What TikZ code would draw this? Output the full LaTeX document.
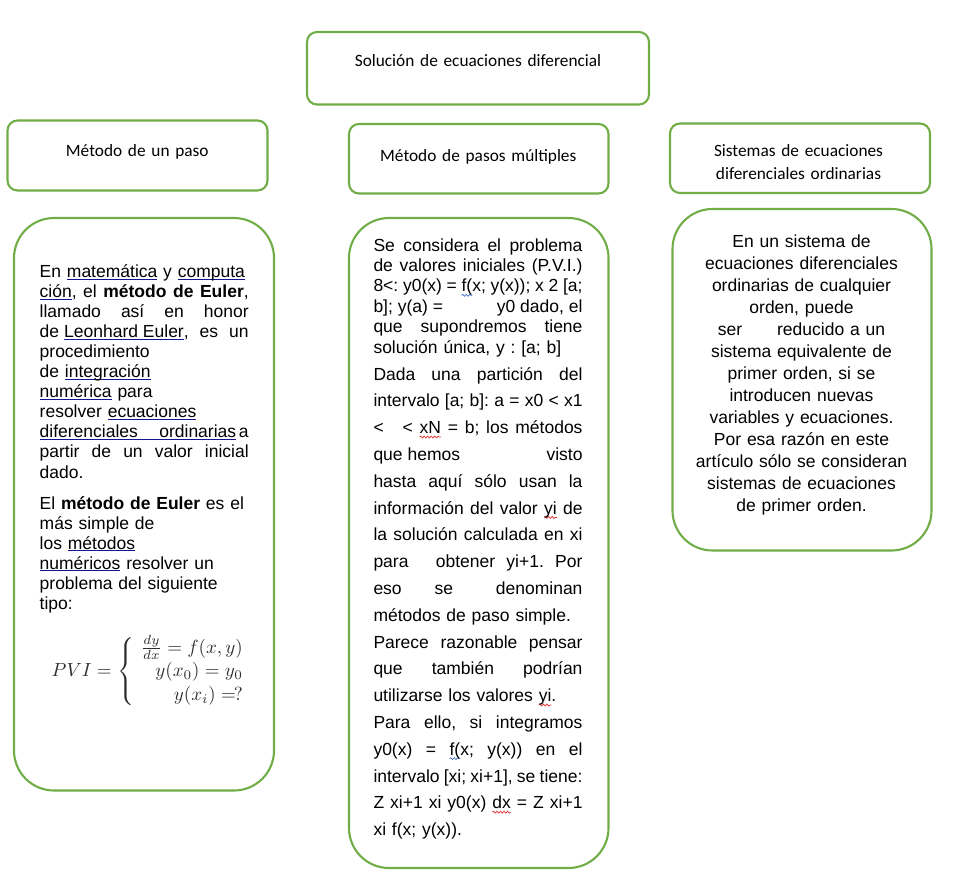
\documentclass[tikz,border=0pt]{standalone}
\usepackage[no-math]{fontspec}
\usepackage{graphicx}
\setmainfont{Liberation Sans}
\newfontfamily\calfont{Carlito}
\usetikzlibrary{decorations.pathmorphing}
\definecolor{grn}{HTML}{70AD47}
\definecolor{lnk}{HTML}{14148C}
\definecolor{sqred}{HTML}{E03030}
\definecolor{sqblue}{HTML}{4472C4}
\frenchspacing
\newsavebox\lkbox
\newcommand\lk[1]{\leavevmode\sbox\lkbox{#1}{\color{lnk}\rlap{\rule[-2.3pt]{\wd\lkbox}{1.1pt}}\usebox\lkbox}}
\newcommand\jl[1]{\leavevmode\makebox[209pt][s]{\spaceskip=4.87pt plus 1fil minus 1.6pt\xspaceskip=\spaceskip\relax #1}}
\newsavebox\sqbox
\newlength\sqlen
\newcommand\sq[2]{\leavevmode\sbox\sqbox{#2}\setlength{\sqlen}{\wd\sqbox}\rlap{\tikz[baseline=0pt,overlay]\draw[#1,line width=0.7pt,decorate,decoration={snake,amplitude=1pt,segment length=3.5pt}] (0pt,-3.4pt) -- (\the\sqlen,-3.4pt);}\usebox\sqbox}
\tikzset{
  hbox/.style={draw=grn, line width=2.1pt, rounded corners=10pt},
  bbox/.style={draw=grn, line width=2.1pt, rounded corners=40pt},
  htext/.style={font=\calfont\fontsize{17.3}{23.3}\selectfont, inner sep=0pt, anchor=base, align=center, text width=320pt},
  bodytext/.style={inner sep=0pt, text width=209pt, align=left, anchor=base west},
}
\begin{document}
\begin{tikzpicture}[x=1pt,y=-1pt]
\useasboundingbox (0,0) rectangle (960,892);
% header boxes
\draw[hbox] (307,32) rectangle (649,104.5);
\draw[hbox] (7.5,120.5) rectangle (267.5,190.5);
\draw[hbox] (349,124) rectangle (608.5,193.5);
\draw[hbox] (670,123.5) rectangle (930,193);
% body boxes
\draw[bbox] (14,218) rectangle (274,790.5);
\draw[bbox] (349,218) rectangle (608.5,868);
\draw[bbox] (672.5,209) rectangle (931.5,550.5);
% header texts
\node[htext] (t0) at (478,66.5) {Solución de ecuaciones diferencial};
\node[htext] (t1) at (137.3,156) {Método de un paso};
\node[htext] (t2) at (478.3,161) {Método de pasos múltiples};
\node[htext] (t3) at (798.5,156) {Sistemas de ecuaciones\\diferenciales ordinarias};
% box A
\node[bodytext, font=\fontsize{17.5}{20.05}\selectfont] (pa1) at (39.5,277.5) {%
\mbox{En \lk{matemática} y \lk{computa}}\\
\jl{\lk{ción}, el \textbf{método de Euler},}\\
\jl{llamado así en honor}\\
\jl{de\hspace{5pt}\lk{Leonhard Euler}, es un}\\
procedimiento\\
de \lk{integración}\\
\lk{numérica} para\\
resolver \lk{ecuaciones}\\
\jl{\lk{\makebox[196.5pt][s]{diferenciales ordinarias}}\hfill a}\\
\jl{partir de un valor inicial}\\
dado.};
\node[bodytext, font=\fontsize{17.5}{20.0}\selectfont] (pa2) at (39.5,509) {%
El \textbf{método de Euler} es el\\
más simple de\\
los \lk{métodos}\\
\lk{numéricos} resolver un\\
problema del siguiente\\
tipo:};
\node[anchor=west, inner sep=0pt, text=black!82] (pvi) at (51.5,671.5) {\scalebox{1.9}{$PVI = \left\{\begin{array}{@{\hspace{3.7pt}}r@{}} \frac{dy}{dx} = f(x,y)\\[0.6pt] y(x_0) = y_0\\[0.6pt] y(x_i) =\mkern-2mu? \end{array}\right.$}};
% box B
\node[bodytext, font=\fontsize{17.5}{20.45}\selectfont] (pb1) at (373.3,251) {%
\jl{Se considera el problema}\\
\jl{de valores iniciales (P.V.I.)}\\
\jl{8<: y0(x) = \sq{sqblue}{f(}x; y(x)); x 2 [a;}\\
\jl{b]; y(a) =\hfill y0 dado, el}\\
\jl{que supondremos tiene}\\
solución única, y : [a; b]};
\node[bodytext, font=\fontsize{17.5}{26.8}\selectfont] (pb2) at (373.3,380) {%
\jl{Dada una partición del}\\
\jl{intervalo [a; b]: a = x0 < x1}\\
\jl{<\hspace{12pt} < \sq{sqred}{xN} = b; los métodos}\\
\jl{que hemos\hfill visto}\\
\jl{hasta aquí sólo usan la}\\
\jl{información del valor \sq{sqred}{yi} de}\\
\jl{la solución calculada en xi}\\
\jl{para\hspace{16pt} obtener yi+1. Por}\\
\jl{eso\hspace{28pt} se\hfill denominan}\\
métodos de paso simple.\\
\jl{Parece razonable pensar}\\
\jl{que también podrían}\\
utilizarse los valores \sq{sqred}{yi}.\\
\jl{Para ello, si integramos}\\
\jl{y0(x) = \sq{sqblue}{f(}x; y(x)) en el}\\
\jl{intervalo [xi; xi+1], se tiene:}\\
\jl{Z xi+1 xi y0(x) \sq{sqred}{dx} = Z xi+1}\\
xi f(x; y(x)).};
% box C
\node[inner sep=0pt, text width=250pt, align=center, anchor=base, font=\fontsize{17.5}{22}\selectfont] (pc) at (801.5,247.3) {%
En un sistema de\\
ecuaciones diferenciales\\
ordinarias de cualquier\\
orden, puede\\
ser\hspace{35pt}reducido a un\\
sistema equivalente de\\
primer orden, si se\\
introducen nuevas\\
variables y ecuaciones.\\
Por esa razón en este\\
artículo sólo se consideran\\
sistemas de ecuaciones\\
de primer orden.};
\end{tikzpicture}
\end{document}
